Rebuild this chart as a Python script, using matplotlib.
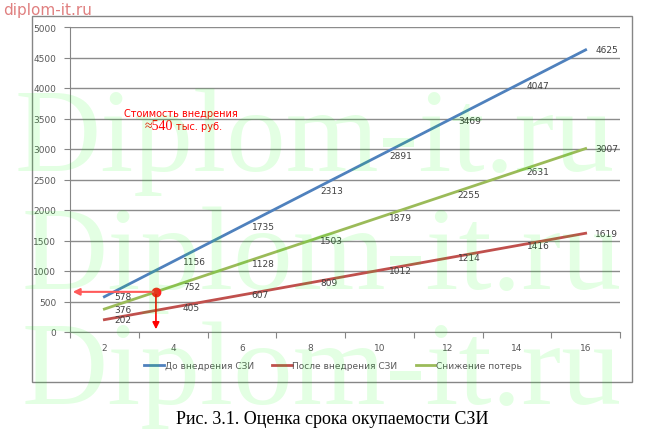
import matplotlib.pyplot as plt
from matplotlib.patches import Rectangle

# Data
years = [2, 4, 6, 8, 10, 12, 14, 16]
before = [578, 1156, 1735, 2313, 2891, 3469, 4047, 4625]
after = [202, 405, 607, 809, 1012, 1214, 1416, 1619]
savings = [376, 752, 1128, 1503, 1879, 2255, 2631, 3007]
series_names = ['До внедрения СЗИ', 'После внедрения СЗИ', 'Снижение потерь']
payback_x, payback_y = 3.5, 658

colors = ['#4F81BD', '#C0504D', '#9BBB59']
tick_color = '#595959'

fig = plt.figure(figsize=(6.64, 4.35), dpi=100)
ax = fig.add_axes([70 / 664, 1 - 333 / 435, 550 / 664, 305 / 435])

# Outer chart frame
fig.patches.append(Rectangle((32 / 664, 1 - 383 / 435), 600 / 664, 366 / 435,
                             transform=fig.transFigure, fill=False,
                             edgecolor='#868686', linewidth=1, zorder=0))

for vals, c, name in zip([before, after, savings], colors, series_names):
    ax.plot(years, vals, color=c, linewidth=2, label=name, zorder=3)
    for x, v in zip(years, vals):
        ax.annotate(str(v), (x, v), xytext=(7, 0), textcoords='offset points',
                    va='center', ha='left', fontsize=6.5, color='#404040', zorder=4)

ax.set_xlim(1, 17)
ax.set_ylim(0, 5000)
ax.set_yticks(range(0, 5001, 500))
ax.set_xticks(range(1, 18, 2))
ax.set_xticklabels([])
ax.set_xticks(years, minor=True)
ax.set_xticklabels([str(y) for y in years], minor=True)
ax.tick_params(axis='x', which='major', length=4, color='#868686', direction='out')
ax.tick_params(axis='x', which='minor', length=0, pad=8, labelsize=6.5, labelcolor=tick_color)
ax.tick_params(axis='y', length=4, color='#868686', labelsize=6.5, labelcolor=tick_color, pad=6)
ax.grid(axis='y', color='#8C8C8C', linewidth=1)
ax.set_axisbelow(True)
for s in ['top', 'right']:
    ax.spines[s].set_visible(False)
for s in ['left', 'bottom']:
    ax.spines[s].set_color('#868686')

# Payback point and arrows
ax.plot(payback_x, payback_y, 'o', color='#FF2020', markersize=6, zorder=5)
ax.annotate('', xy=(1, payback_y), xytext=(payback_x, payback_y),
            arrowprops=dict(arrowstyle='-|>', color='#FF5A5A', lw=1.5, mutation_scale=10),
            zorder=5)
ax.annotate('', xy=(payback_x, 0), xytext=(payback_x, payback_y),
            arrowprops=dict(arrowstyle='-|>', color='#FF0000', lw=1.2, mutation_scale=10),
            zorder=5)

fig.text(181 / 664, 1 - 114 / 435, 'Стоимость внедрения', color='#FF0000',
         fontsize=7, ha='center', va='center')
cost = fig.text(145 / 664, 1 - 127 / 435, '≈540', color='#FF0000', fontsize=10,
                family='Liberation Serif', ha='left', va='center')
ax.annotate('тыс. руб.', xy=(1, 0.5), xycoords=cost, xytext=(2, 0),
            textcoords='offset points', color='#FF0000', fontsize=7,
            ha='left', va='center', annotation_clip=False)

fig.legend(loc='center', bbox_to_anchor=(333 / 664, 1 - 367 / 435), ncol=3,
           frameon=False, fontsize=6.5, handlelength=2.2, handletextpad=0.1,
           columnspacing=2.0, labelcolor=tick_color)

fig.text(0.5, 1 - 420 / 435, 'Рис. 3.1. Оценка срока окупаемости СЗИ',
         family='Liberation Serif', fontsize=13, ha='center', va='center')

# Watermarks
fig.text(3 / 664, 1 - 11 / 435, 'diplom-it.ru', color='#E08080', fontsize=11,
         ha='left', va='center')
for xp, base in [(15, 171), (22, 289), (22, 404)]:
    fig.text(xp / 664, 1 - base / 435, 'Diplom-it.ru', family='Liberation Serif',
             fontsize=86, color='#00FF00', alpha=0.11, ha='left', va='baseline',
             zorder=10)

fig.savefig('out.png', dpi=100)
